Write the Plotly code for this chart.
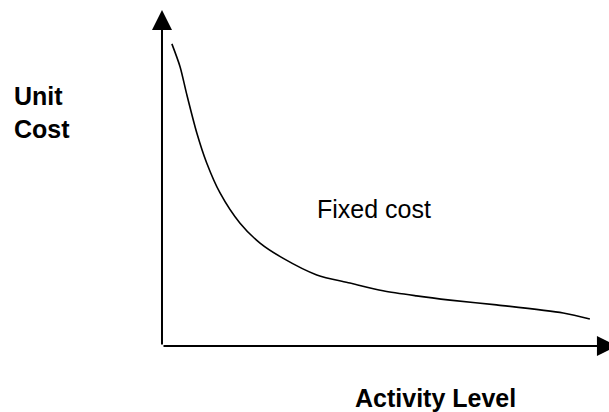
import plotly.graph_objects as go

# Fixed cost per unit falls as activity rises
activity = [2.3, 4.2, 5.7, 8.1, 10.4, 13.5, 18.1, 22.8, 28.1, 36.0, 43.7, 51.4, 59.2, 67.0, 77.8, 93.3, 99.5]
unit_cost = [100.7, 93.1, 84.2, 71.0, 61.0, 51.0, 41.0, 34.3, 29.3, 23.7, 21.0, 18.4, 16.7, 15.3, 13.7, 11.0, 9.0]

x_label = "Activity Level"
y_label = "Unit<br>Cost"
curve_label = "Fixed cost"

W, H = 609, 412
# axis ranges chosen so the origin sits where the reference draws it
x_range = [-37.67, 103.95]
y_range = [-22.0, 115.33]
x_tip = 105.8   # x arrow runs a little past the right edge
y_tip = 112.0

fig = go.Figure()

# the curve
fig.add_trace(go.Scatter(
    x=activity, y=unit_cost, mode='lines',
    line=dict(color='black', width=1.6, shape='spline', smoothing=0.8),
    hoverinfo='skip'
))

# axes drawn as arrows from the origin
for tip_x, tip_y in [(x_tip, 0), (0, y_tip)]:
    fig.add_annotation(
        x=tip_x, y=tip_y, ax=0, ay=0, xref='x', yref='y', axref='x', ayref='y',
        text='', showarrow=True, arrowhead=2, arrowsize=2, arrowwidth=2,
        arrowcolor='black'
    )

font_b = dict(family='Liberation Sans, Arial, sans-serif', size=25, color='black')
fig.add_annotation(x=-34.9, y=88.5, xanchor='left', yanchor='top', align='left',
                   text='<b>' + y_label + '</b>', showarrow=False, font=font_b)
fig.add_annotation(x=63.7, y=-11.9, xanchor='center', yanchor='top',
                   text='<b>' + x_label + '</b>', showarrow=False, font=font_b)
fig.add_annotation(x=49.2, y=50.9, xanchor='center', yanchor='top',
                   text=curve_label, showarrow=False,
                   font=dict(family='Liberation Sans, Arial, sans-serif', size=25, color='black'))

fig.update_layout(
    width=W, height=H,
    margin=dict(l=0, r=0, t=0, b=0),
    paper_bgcolor='white', plot_bgcolor='white',
    showlegend=False,
    xaxis=dict(range=x_range, visible=False, fixedrange=True),
    yaxis=dict(range=y_range, visible=False, fixedrange=True),
)

# drop the page's default body margin so the figure sits at the window corner
fig.write_html("out.html", config={'displayModeBar': False},
               post_script="document.body.style.margin='0';")
